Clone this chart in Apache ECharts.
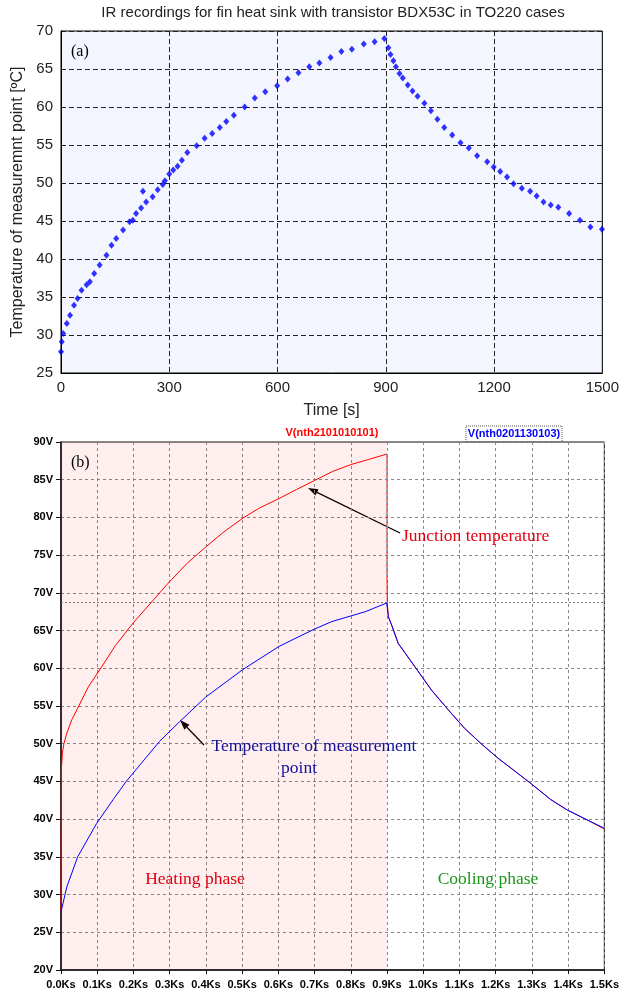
<!DOCTYPE html>
<html lang="en">
<head>
<meta charset="UTF-8">
<title>IR recordings / simulation</title>
<script src="https://cdn.jsdelivr.net/npm/echarts@6/dist/echarts.min.js"></script>
<style>
html,body{margin:0;padding:0;background:#fff;}
#chartBox{width:622px;height:993px;}
</style>
</head>
<body>
<div id="chartBox"></div>
<script>
// (a) IR camera readings, time [s] / temperature [C]
const irTime = [0, 2, 6, 16, 25, 36, 46, 57, 71, 80, 92, 107, 126, 140, 153, 172, 190, 199, 208, 222, 227, 236, 254, 268, 282, 288,
    300, 311, 323, 335, 350, 376, 398, 419, 440, 458, 479, 509, 537, 566, 599, 628, 658, 688, 716, 747, 777, 806, 839, 869, 896,
    907, 913, 921, 928, 938, 947, 961, 974, 988, 1007, 1025, 1043, 1062, 1084, 1107, 1130, 1153, 1181, 1199, 1217, 1236, 1254,
    1277, 1300, 1318, 1337, 1357, 1378, 1408, 1438, 1467, 1499];
const irTemp = [27.8, 29.1, 30.2, 31.5, 32.6, 33.9, 34.8, 35.9, 36.6, 37.0, 38.1, 39.2, 40.5, 41.8, 42.7, 43.8, 44.9, 45.1, 46.0, 46.7, 48.9, 47.5, 48.2, 49.1, 49.8, 50.3,
    51.2, 51.7, 52.2, 53.0, 54.0, 54.9, 55.9, 56.5, 57.3, 58.1, 58.9, 60.0, 61.2, 62.0, 62.8, 63.7, 64.5, 65.3, 65.8, 66.5, 67.3, 67.6, 68.3, 68.6, 69.0,
    67.8, 66.9, 66.1, 65.3, 64.4, 63.8, 62.9, 62.1, 61.4, 60.5, 59.5, 58.4, 57.3, 56.3, 55.3, 54.6, 53.6, 52.8, 52.1, 51.5, 50.8, 49.9,
    49.3, 48.9, 48.3, 47.5, 47.1, 46.8, 46.0, 45.1, 44.2, 43.9];

// (b) simulation, time [s] / node voltage [V]
const junctionTime = [0, 1, 4, 8, 16, 30, 46, 75, 107, 150, 199, 254, 300, 350, 400, 450, 505, 550, 602, 650, 700, 750, 800, 850, 900,
    900, 901, 904, 913, 931, 977, 1023, 1069, 1115, 1160, 1206, 1298, 1352, 1398, 1444, 1500];
const junctionVolt = [27.8, 46.5, 48.8, 50.0, 51.4, 53.2, 54.7, 57.5, 59.8, 63.0, 66.0, 69.0, 71.5, 74.0, 76.1, 78.1, 80.0, 81.3, 82.5, 83.7, 84.9, 86.1, 87.0, 87.7, 88.4,
    72.2, 68.5, 66.8, 65.7, 63.3, 60.2, 57.1, 54.5, 52.0, 50.0, 48.1, 44.7, 42.6, 41.2, 40.1, 38.7];
const pointTime = [0, 16, 46, 98, 144, 180, 272, 327, 400, 501, 602, 657, 700, 748, 840, 899,
    904, 913, 931, 977, 1023, 1069, 1115, 1160, 1206, 1298, 1352, 1398, 1444, 1500];
const pointVolt = [27.7, 31.0, 35.0, 39.4, 42.6, 45.0, 50.3, 52.9, 56.2, 59.8, 62.9, 64.2, 65.2, 66.2, 67.5, 68.65,
    66.8, 65.7, 63.3, 60.2, 57.1, 54.5, 52.0, 50.0, 48.1, 44.7, 42.6, 41.2, 40.1, 38.8];
const cursorTime = [900, 900];
const cursorVolt = [72.2, 88.4];
const cursorLevel = 68.7;
const heatingEnd = 900;

function pairs(xs, ys) {
    return xs.map((x, i) => [x, ys[i]]);
}

// arrow from label (x1,y1) to the curve (x2,y2)
function arrow(x1, y1, x2, y2) {
    let dx = x2 - x1, dy = y2 - y1;
    let len = Math.sqrt(dx * dx + dy * dy);
    let ux = dx / len, uy = dy / len;
    let bx = x2 - ux * 10, by = y2 - uy * 10;
    return {
        type: 'group',
        children: [
            {type: 'line', shape: {x1: x1, y1: y1, x2: bx, y2: by}, style: {stroke: '#000', lineWidth: 1.3}},
            {type: 'polygon', shape: {points: [[x2, y2], [bx - uy * 3.5, by + ux * 3.5], [bx + uy * 3.5, by - ux * 3.5]]},
             style: {fill: '#000'}}
        ]
    };
}

function txt(x, y, text, font, fill, align) {
    return {
        type: 'text', x: x, y: y, z: 10,
        style: {text: text, font: font, fill: fill, align: align || 'left', verticalAlign: 'middle'}
    };
}

const SERIF = '"Liberation Serif", "DejaVu Serif", serif';
const SANS = '"Liberation Sans", Arial, sans-serif';

let chartObj = echarts.init(document.getElementById('chartBox'));
let option = {
    animation: false,
    grid: [
        {left: 61, top: 31, width: 545, height: 342, show: true, backgroundColor: '#F3F6FE', borderColor: '#000', borderWidth: 1},
        {left: 61, top: 442, width: 546, height: 528, show: true, backgroundColor: '#fff', borderColor: '#111', borderWidth: 1}
    ],
    xAxis: [
        {
            gridIndex: 0, type: 'value', min: 0, max: 1500, interval: 300,
            axisLine: {lineStyle: {color: '#000'}},
            axisTick: {show: false},
            axisLabel: {color: '#222', fontSize: 15, fontFamily: SANS, margin: 7, formatter: v => String(v)},
            splitLine: {show: true, lineStyle: {color: '#222', type: [5, 3]}},
            name: 'Time [s]', nameLocation: 'middle', nameGap: 30,
            nameTextStyle: {color: '#222', fontSize: 16, fontFamily: SANS}
        },
        {
            gridIndex: 1, type: 'value', min: 0, max: 1500, interval: 100,
            axisLine: {lineStyle: {color: '#111', width: 1.5}},
            axisTick: {show: true, length: 4, lineStyle: {color: '#111'}},
            axisLabel: {color: '#000', fontSize: 11, fontWeight: 'bold', fontFamily: SANS, margin: 9,
                formatter: v => (v / 1000).toFixed(1) + 'Ks'},
            splitLine: {show: true, lineStyle: {color: '#888', type: [3, 3]}}
        }
    ],
    yAxis: [
        {
            gridIndex: 0, type: 'value', min: 25, max: 70, interval: 5,
            axisLine: {lineStyle: {color: '#000'}},
            axisTick: {show: false},
            axisLabel: {color: '#222', fontSize: 15, fontFamily: SANS, margin: 8},
            splitLine: {show: true, lineStyle: {color: '#222', type: [5, 3]}},
            name: 'Temperature of measuremnt point [ºC]', nameLocation: 'middle', nameGap: 32,
            nameTextStyle: {color: '#222', fontSize: 16, fontFamily: SANS}
        },
        {
            gridIndex: 1, type: 'value', min: 20, max: 90, interval: 5,
            axisLine: {lineStyle: {color: '#111', width: 1.5}},
            axisTick: {show: true, length: 5, lineStyle: {color: '#111'}},
            axisLabel: {color: '#000', fontSize: 11, fontWeight: 'bold', fontFamily: SANS, margin: 8,
                formatter: v => v + 'V'},
            splitLine: {show: true, lineStyle: {color: '#888', type: [3, 3]}}
        }
    ],
    series: [
        {
            type: 'scatter', xAxisIndex: 0, yAxisIndex: 0,
            symbol: 'diamond', symbolSize: [6, 7],
            itemStyle: {color: '#0000FF'},
            data: pairs(irTime, irTemp)
        },
        {
            type: 'line', name: 'V(nth2101010101)', xAxisIndex: 1, yAxisIndex: 1,
            symbol: 'none', clip: false,
            lineStyle: {color: '#FF0000', width: 1},
            data: pairs(junctionTime, junctionVolt),
            markArea: {
                silent: true,
                itemStyle: {color: 'rgba(255,0,0,0.065)'},
                data: [[{xAxis: 0}, {xAxis: heatingEnd}]]
            }
        },
        {
            type: 'line', name: 'V(nth0201130103)', xAxisIndex: 1, yAxisIndex: 1,
            symbol: 'none', clip: false,
            lineStyle: {color: '#0000FF', width: 1},
            data: pairs(pointTime, pointVolt),
            markLine: {
                silent: true, symbol: 'none', label: {show: false},
                lineStyle: {color: '#777', type: [2, 2], width: 1},
                data: [{yAxis: cursorLevel}]
            }
        },
        {
            type: 'line', xAxisIndex: 1, yAxisIndex: 1,
            symbol: 'none', clip: false,
            lineStyle: {color: '#33DDEE', width: 1, type: [3, 3]},
            data: pairs(cursorTime, cursorVolt)
        }
    ],
    graphic: [
        txt(333, 13, 'IR recordings for fin heat sink with transistor BDX53C in TO220 cases', '15px ' + SANS, '#222', 'center'),
        txt(71, 52, '(a)', '16px ' + SERIF, '#000'),
        txt(71, 463, '(b)', '16px ' + SERIF, '#000'),
        txt(332, 433, 'V(nth2101010101)', 'bold 11px ' + SANS, '#FF0000', 'center'),
        {type: 'rect', shape: {x: 466, y: 426, width: 96, height: 16}, style: {fill: 'none', stroke: '#555', lineDash: [1, 1]}},
        txt(514, 434, 'V(nth0201130103)', 'bold 11px ' + SANS, '#0000FF', 'center'),
        txt(402, 536, 'Junction temperature', '17.5px ' + SERIF, '#E00010'),
        arrow(400, 533, 308, 488),
        txt(314, 746, 'Temperature of measurement', '17.5px ' + SERIF, '#10109A', 'center'),
        txt(299, 768, 'point', '17.5px ' + SERIF, '#10109A', 'center'),
        arrow(204, 745, 180, 720),
        txt(195, 879, 'Heating phase', '17.5px ' + SERIF, '#E00010', 'center'),
        txt(488, 879, 'Cooling phase', '17.5px ' + SERIF, '#1A961A', 'center')
    ]
};
chartObj.setOption(option);
</script>
</body>
</html>
